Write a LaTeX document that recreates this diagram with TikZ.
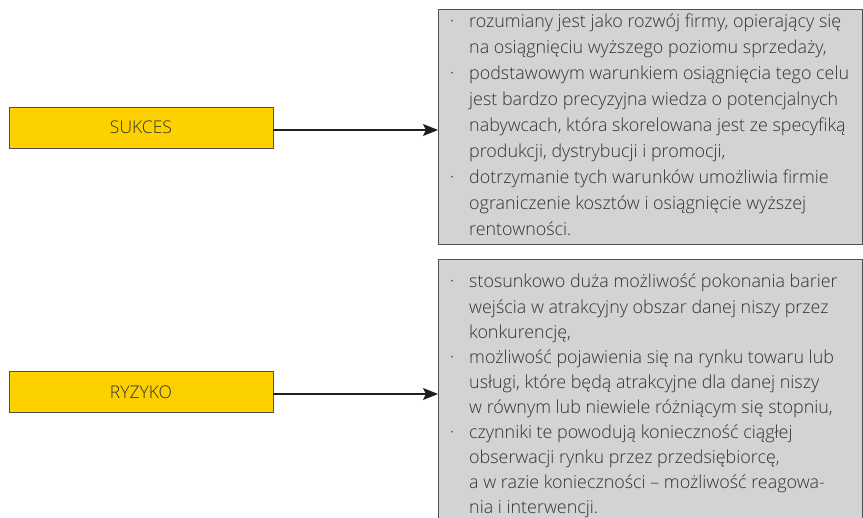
\documentclass[tikz,border=0pt]{standalone}
\usepackage{fontspec}
\setmainfont{Open Sans}[UprightFont={* Light}]
\usetikzlibrary{arrows.meta}
\definecolor{labelyellow}{RGB}{253,208,0}
\definecolor{panelgray}{RGB}{210,211,213}
\definecolor{edgegray}{RGB}{80,80,80}
\definecolor{inkgray}{RGB}{50,50,52}
\definecolor{arrowink}{RGB}{35,31,32}
\newcommand{\bul}{\llap{\textperiodcentered\hspace{15pt}}}
\begin{document}
\begin{tikzpicture}[x=1pt,y=-1pt,
  labelbox/.style={draw=edgegray, line width=0.8pt, fill=labelyellow,
    minimum width=264pt, minimum height=41pt, inner sep=0pt,
    font=\fontsize{17.5}{20}\selectfont, text=inkgray},
  panel/.style={draw=edgegray, line width=0.9pt, fill=panelgray,
    anchor=north west, minimum width=424pt, inner sep=0pt},
  textline/.style={anchor=base west, inner sep=0pt,
    font=\fontsize{17.9}{24}\selectfont, text=inkgray},
  link/.style={draw=arrowink, line width=1.2pt,
    -{Stealth[length=15pt,width=12pt,inset=3pt]}}]
\useasboundingbox (0,0) rectangle (863,518);
\clip (0,0) rectangle (863,518);

% grey description panels
\node[panel, minimum height=235pt] (pSuccess) at (438,9) {};
\node[panel, minimum height=290pt] (pRisk) at (438,259) {};

% yellow labels
\node[labelbox] (sukces) at (141,127.5) {SUKCES};
\node[labelbox] (ryzyko) at (141,392) {RYZYKO};

% connectors
\draw[link] ([yshift=-2.5pt]sukces.east) -- ([yshift=-2.5pt]sukces.east -| pSuccess.west);
\draw[link] ([yshift=-2pt]ryzyko.east) -- ([yshift=-2pt]ryzyko.east -| pRisk.west);

% panel texts
\foreach \txt [count=\i] in {
  {\bul rozumiany jest jako rozwój firmy, opierający się},
  {na osiągnięciu wyższego poziomu sprzedaży,},
  {\bul podstawowym warunkiem osiągnięcia tego celu},
  {jest bardzo precyzyjna wiedza o potencjalnych},
  {nabywcach, która skorelowana jest ze specyfiką},
  {produkcji, dystrybucji i promocji,},
  {\bul dotrzymanie tych warunków umożliwia firmie},
  {ograniczenie kosztów i osiągnięcie wyższej},
  {rentowności.}}
  \node[textline] (s\i) at (469,{28+25.9*(\i-1)}) {\txt};

\foreach \txt [count=\i] in {
  {\bul stosunkowo duża możliwość pokonania barier},
  {wejścia w atrakcyjny obszar danej niszy przez},
  {konkurencję,},
  {\bul możliwość pojawienia się na rynku towaru lub},
  {usługi, które będą atrakcyjne dla danej niszy},
  {w równym lub niewiele różniącym się stopniu,},
  {\bul czynniki te powodują konieczność ciągłej},
  {obserwacji rynku przez przedsiębiorcę,},
  {a w razie konieczności – możliwość reagowa-},
  {nia i interwencji.}}
  \node[textline] (r\i) at (469,{288+25.1*(\i-1)}) {\txt};
\end{tikzpicture}
\end{document}
